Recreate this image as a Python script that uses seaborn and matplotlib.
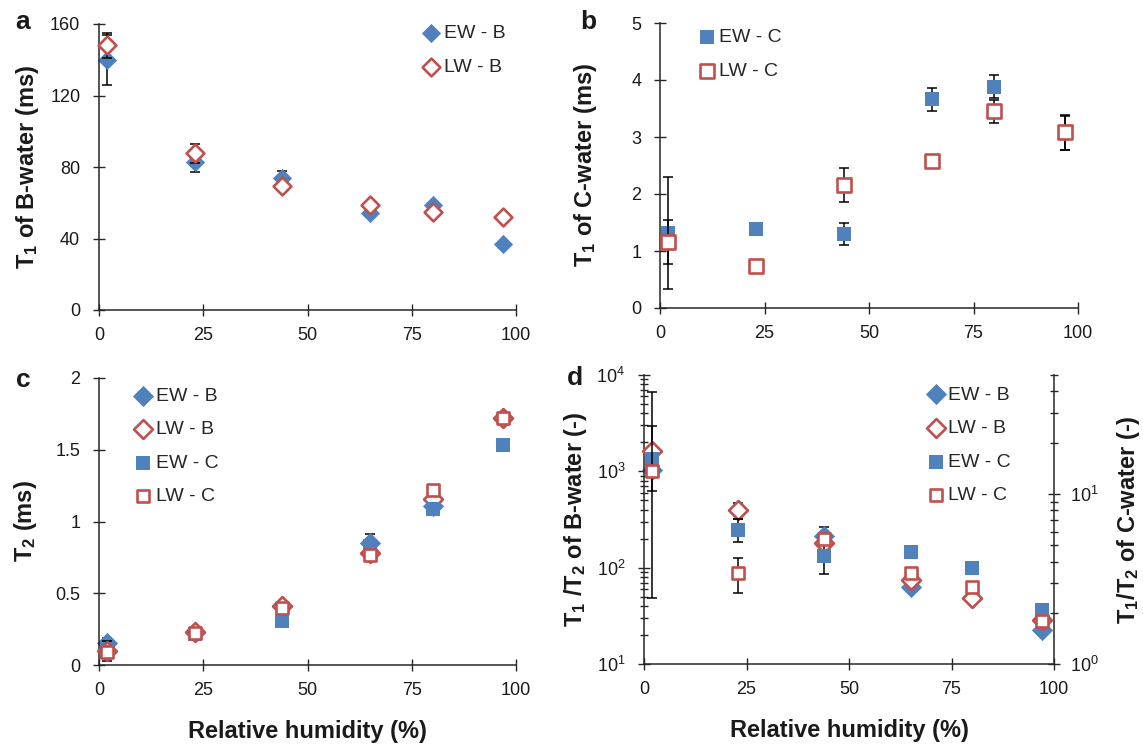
import numpy as np
import matplotlib
matplotlib.use("Agg")
import matplotlib.pyplot as plt
import seaborn as sns
from matplotlib.ticker import FixedLocator, FuncFormatter, LogLocator, NullFormatter

# relative humidity of the salt solutions (%)
rh = [2, 23, 44, 65, 80, 97]

# (a) T1 of B-water (ms)
ew_b_t1 = [140, 82.6, 74, 54.5, 59, 37]
lw_b_t1 = [148, 87.7, 69.4, 58.6, 55, 52]
ew_b_t1_err = [14, 5.6, 4, 0, 0, 0]
lw_b_t1_err = [7, 5.2, 0, 0, 0, 0]

# (b) T1 of C-water (ms)
ew_c_t1 = [1.32, 1.38, 1.30, 3.66, 3.88, 3.07]
lw_c_t1 = [1.16, 0.73, 2.16, 2.58, 3.45, 3.08]
ew_c_t1_err = [0.98, 0, 0.19, 0.2, 0.2, 0.3]
lw_c_t1_err = [0.39, 0, 0.3, 0, 0.2, 0.3]

# (c) T2 (ms)
ew_b_t2 = [0.15, 0.23, 0.41, 0.85, 1.11, 1.72]
lw_b_t2 = [0.10, 0.23, 0.41, 0.78, 1.16, 1.72]
ew_c_t2 = [0.09, 0.215, 0.31, 0.83, 1.09, 1.53]
lw_c_t2 = [0.09, 0.225, 0.40, 0.77, 1.22, 1.72]
ew_b_t2_err = [0.035, 0.01, 0.01, 0.06, 0.01, 0.01]
lw_b_t2_err = [0.07, 0.01, 0.01, 0.05, 0.02, 0.03]
ew_c_t2_err = [0, 0, 0, 0, 0, 0]
lw_c_t2_err = [0.01, 0.01, 0.01, 0.01, 0.03, 0.01]

# (d) T1/T2 ratios; B on the left axis, C on the right axis
ew_b_ratio = [1035, 395, 214, 62.7, 49, 22.4]
lw_b_ratio = [1640, 397, 179, 74.5, 48, 28.4]
ew_c_ratio = [16.0, 6.14, 4.32, 4.58, 3.66, 2.07]
lw_c_ratio = [13.7, 3.42, 5.42, 3.42, 2.85, 1.79]
ew_b_ratio_lo = [986, 77, 53, 0, 0, 0]
ew_b_ratio_hi = [5695, 77, 53, 0, 0, 0]
ew_c_ratio_lo = [0, 0.95, 0.95, 0, 0, 0]
ew_c_ratio_hi = [0, 0.95, 0.95, 0, 0, 0]
lw_c_ratio_lo = [3.3, 0.8, 0, 0, 0, 0]
lw_c_ratio_hi = [11.4, 0.8, 0, 0, 0, 0]

x_ticks = [0, 25, 50, 75, 100]

sns.set_theme(style="ticks")
plt.rcParams["font.family"] = ["Liberation Sans", "DejaVu Sans"]
plt.rcParams["mathtext.fontset"] = "custom"
plt.rcParams["mathtext.rm"] = "Liberation Sans"
plt.rcParams["mathtext.it"] = "Liberation Sans:italic"
plt.rcParams["mathtext.bf"] = "Liberation Sans:bold"

BLUE = "#4F81BD"
RED = "#C0504D"
AXCOL = "#262626"
TXT = "#1a1a1a"
W, H = 1143, 748

fig = plt.figure(figsize=(W / 100, H / 100), dpi=100)


def add_axes(left, top, right, bottom):
    """Place axes using pixel edges of the plotting area."""
    return fig.add_axes([left / W, 1 - bottom / H, (right - left) / W, (bottom - top) / H])


def style_axis(ax):
    for s in ["top", "right"]:
        ax.spines[s].set_visible(False)
    for s in ["left", "bottom"]:
        ax.spines[s].set_linewidth(1.1)
        ax.spines[s].set_color(AXCOL)
    ax.tick_params(which="both", direction="inout", width=1, colors=AXCOL,
                   labelsize=13, labelcolor=TXT)
    ax.tick_params(which="major", length=9)
    ax.tick_params(which="minor", length=6)
    ax.tick_params(axis="x", pad=8)
    ax.tick_params(axis="y", pad=9)
    ax.set_xlim(0, 100)
    ax.xaxis.set_major_locator(FixedLocator(x_ticks))


def plot_series(ax, y, err, marker, size, hollow, color, label, z):
    y = np.asarray(y, dtype=float)
    if err is not None:
        lo, hi = (np.asarray(e, dtype=float) for e in err)
        keep = (lo + hi) > 0
        if keep.any():
            ax.errorbar(np.asarray(rh)[keep], y[keep], yerr=[lo[keep], hi[keep]],
                        fmt="none", ecolor="black", elinewidth=1.1, capsize=3.6,
                        capthick=1.1, zorder=z)
    sns.scatterplot(x=rh, y=y, ax=ax, marker=marker, s=size,
                    color="white" if hollow else color, edgecolor=color,
                    linewidth=1.9 if hollow else 0, label=label,
                    zorder=z + 0.5, clip_on=False)


def sym(e):
    return (e, e)


def ylabel(ax, text, x):
    ax.set_ylabel(text, fontsize=17, fontweight="bold", color=TXT)
    ax.yaxis.set_label_coords(x, 0.5)


def handles_of(*axes):
    names = ("EW - B", "LW - B", "EW - C", "LW - C")
    return [c for a in axes for c in a.collections if c.get_label() in names]


def legend(ax, handles, loc, anchor, spacing):
    ax.legend(handles=handles, loc=loc, bbox_to_anchor=anchor, frameon=False,
              fontsize=14, handlelength=1.0, handletextpad=0.15,
              labelspacing=spacing, borderpad=0, borderaxespad=0)


general = FuncFormatter(lambda v, p: f"{v:g}")

# ---- (a) ----
ax_a = add_axes(99, 24, 516, 310)
style_axis(ax_a)
plot_series(ax_a, ew_b_t1, sym(ew_b_t1_err), "D", 96, False, BLUE, "EW - B", 2)
plot_series(ax_a, lw_b_t1, sym(lw_b_t1_err), "D", 82, True, RED, "LW - B", 4)
ax_a.set_ylim(0, 160)
ax_a.yaxis.set_major_locator(FixedLocator([0, 40, 80, 120, 160]))
ax_a.set_xlabel("")
ylabel(ax_a, r"$\mathbf{T_1}$ of B-water (ms)", -0.14)
legend(ax_a, handles_of(ax_a), "upper right", (0.975, 1.0), 0.85)

# ---- (b) ----
ax_b = add_axes(660, 23, 1078, 308)
style_axis(ax_b)
plot_series(ax_b, ew_c_t1, sym(ew_c_t1_err), "s", 100, False, BLUE, "EW - C", 2)
plot_series(ax_b, lw_c_t1, sym(lw_c_t1_err), "s", 95, True, RED, "LW - C", 4)
ax_b.set_ylim(0, 5)
ax_b.yaxis.set_major_locator(FixedLocator([0, 1, 2, 3, 4, 5]))
ax_b.set_xlabel("")
ylabel(ax_b, r"$\mathbf{T_1}$ of C-water (ms)", -0.145)
legend(ax_b, handles_of(ax_b), "upper left", (0.088, 0.98), 0.85)

# ---- (c) ----
ax_c = add_axes(99, 378, 516, 665)
style_axis(ax_c)
plot_series(ax_c, ew_b_t2, sym(ew_b_t2_err), "D", 117, False, BLUE, "EW - B", 2)
plot_series(ax_c, lw_b_t2, sym(lw_b_t2_err), "D", 92, True, RED, "LW - B", 4)
plot_series(ax_c, ew_c_t2, sym(ew_c_t2_err), "s", 112, False, BLUE, "EW - C", 6)
plot_series(ax_c, lw_c_t2, sym(lw_c_t2_err), "s", 80, True, RED, "LW - C", 8)
ax_c.set_ylim(0, 2)
ax_c.yaxis.set_major_locator(FixedLocator([0, 0.5, 1, 1.5, 2]))
ax_c.yaxis.set_major_formatter(general)
ylabel(ax_c, r"$\mathbf{T_2}$ (ms)", -0.145)
ax_c.set_xlabel("Relative humidity (%)", fontsize=17, fontweight="bold", color=TXT)
ax_c.xaxis.set_label_coords(0.5, -0.19)
legend(ax_c, handles_of(ax_c), "upper left", (0.082, 0.968), 0.82)

# ---- (d) ----
ax_d = add_axes(644, 375, 1054, 664)
style_axis(ax_d)
ax_d2 = ax_d.twinx()
plot_series(ax_d, ew_b_ratio, (ew_b_ratio_lo, ew_b_ratio_hi), "D", 117, False, BLUE, "EW - B", 2)
plot_series(ax_d, lw_b_ratio, None, "D", 92, True, RED, "LW - B", 4)
plot_series(ax_d2, ew_c_ratio, (ew_c_ratio_lo, ew_c_ratio_hi), "s", 115, False, BLUE, "EW - C", 6)
plot_series(ax_d2, lw_c_ratio, (lw_c_ratio_lo, lw_c_ratio_hi), "s", 82, True, RED, "LW - C", 8)

ax_d.set_yscale("log")
ax_d.set_ylim(10, 1e4)
ax_d.yaxis.set_major_locator(LogLocator(base=10))
ax_d.yaxis.set_minor_locator(LogLocator(base=10, subs=np.arange(2, 10)))
ax_d.yaxis.set_minor_formatter(NullFormatter())
ax_d.set_xlim(0, 100)
ylabel(ax_d, r"$\mathbf{T_1}$ /$\mathbf{T_2}$ of B-water (-)", -0.135)
ax_d.set_xlabel("Relative humidity (%)", fontsize=17, fontweight="bold", color=TXT)
ax_d.xaxis.set_label_coords(0.5, -0.19)

ax_d2.set_yscale("log")
ax_d2.set_ylim(1, 50)
ax_d2.set_xlim(0, 100)
ax_d2.yaxis.set_major_locator(LogLocator(base=10))
ax_d2.yaxis.set_minor_locator(LogLocator(base=10, subs=np.arange(2, 10)))
ax_d2.yaxis.set_minor_formatter(NullFormatter())
for s in ["top", "left", "bottom"]:
    ax_d2.spines[s].set_visible(False)
ax_d2.spines["right"].set_linewidth(1.1)
ax_d2.spines["right"].set_color(AXCOL)
ax_d2.tick_params(axis="y", which="both", direction="inout", width=1, colors=AXCOL,
                  labelsize=13, labelcolor=TXT, pad=7)
ax_d2.tick_params(axis="y", which="major", length=9)
ax_d2.tick_params(axis="y", which="minor", length=6)
ax_d2.set_ylabel(r"$\mathbf{T_1}$/$\mathbf{T_2}$ of C-water (-)", fontsize=17,
                 fontweight="bold", color=TXT)
ax_d2.yaxis.set_label_coords(1.15, 0.5)

if ax_d.get_legend() is not None:
    ax_d.get_legend().remove()
legend(ax_d2, handles_of(ax_d, ax_d2), "upper left", (0.688, 0.962), 0.82)

# panel letters
for letter, (px, py) in zip("abcd", [(23, 22), (588, 22), (23, 380), (575, 378)]):
    fig.text(px / W, 1 - py / H, letter, fontsize=19, fontweight="bold",
             ha="center", va="center", color=TXT)

fig.savefig("out.png", dpi=100)
